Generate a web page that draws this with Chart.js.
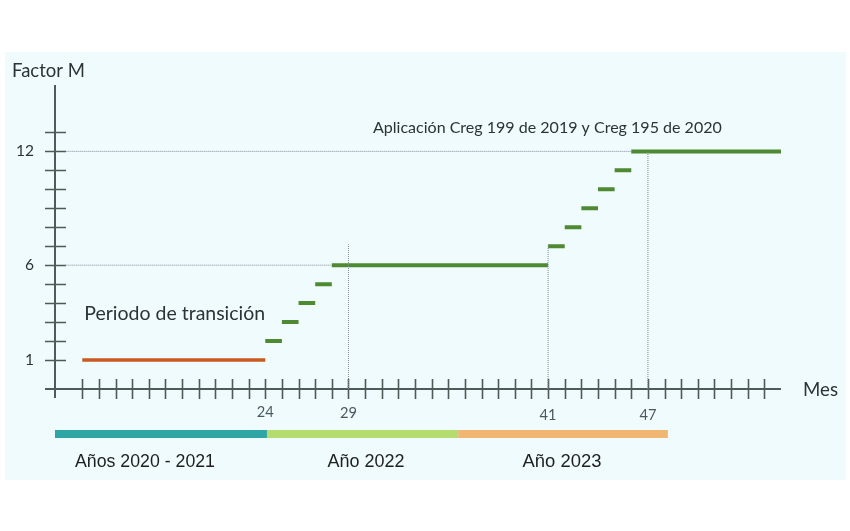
<!DOCTYPE html>
<html><head><meta charset="utf-8">
<script src="https://cdn.jsdelivr.net/npm/chart.js@4.4.1/dist/chart.umd.min.js"></script>
<style>html,body{margin:0;padding:0;background:#fff}canvas{display:block}</style>
</head><body>
<canvas id="c" width="850" height="531"></canvas>
<script>
// x values are schematic tick positions of the "Mes" axis
// (first 12 ticks = 2 months each up to month 24, then 1 month per tick)
const monthTickPos = [12, 17, 29, 35];
const monthTickLabels = ['24', '29', '41', '47'];
const yTickLabels = [1, 6, 12];

const transStart = [1];
const transEnd = [12];
const transValue = [1];

const stepStart = [12, 13, 14, 15, 16, 29, 30, 31, 32, 33, 34];
const stepEnd   = [13, 14, 15, 16, 29, 30, 31, 32, 33, 34, 43];
const stepValue = [2, 3, 4, 5, 6, 7, 8, 9, 10, 11, 12];

const refHValue = [12, 6];
const refHEnd = [34, 16];
const refVPos = [17, 29, 35];
const refVTop = [7.1, 7, 12];

const periodLabels = ['Años 2020 - 2021', 'Año 2022', 'Año 2023'];
const periodStart = [-0.64, 12.1, 23.6];
const periodEnd = [12.1, 23.6, 36.2];
const periodColors = ['#2fa5a6', '#b5dc6f', '#f2b673'];

const X_MIN = -0.64, X_MAX = 43, Y_MIN = -0.53, Y_MAX = 15.5;

function segs(starts, ends, vals) {
  const out = [];
  starts.forEach((s, i) => {
    out.push({x: s, y: vals[i]}, {x: ends[i], y: vals[i]}, {x: ends[i], y: null});
  });
  return out;
}
function hRefs() {
  const out = [];
  refHValue.forEach((v, i) => out.push({x: 0, y: v}, {x: refHEnd[i], y: v}, {x: refHEnd[i], y: null}));
  return out;
}
function vRefs() {
  const out = [];
  refVPos.forEach((p, i) => out.push({x: p, y: Y_MIN}, {x: p, y: refVTop[i]}, {x: p, y: null}));
  return out;
}

function fitText(ctx, text, x, y, width, family, color, align) {
  ctx.save();
  ctx.font = '20px ' + family;
  const w = ctx.measureText(text).width;
  const size = 20 * width / w;
  ctx.font = size.toFixed(2) + 'px ' + family;
  ctx.fillStyle = color;
  ctx.textAlign = align || 'left';
  ctx.textBaseline = 'middle';
  ctx.fillText(text, x, y);
  ctx.restore();
}

const AXIS = '#4f5a5a';
const TXT = '#2c3336';

const decor = {
  id: 'decor',
  beforeDraw(chart) {
    const ctx = chart.ctx;
    ctx.save();
    ctx.fillStyle = '#effbfd';
    ctx.fillRect(5, 52, 841, 428);
    ctx.restore();
  },
  beforeDatasetsDraw(chart) {
    const ctx = chart.ctx, xs = chart.scales.x, ys = chart.scales.y, ca = chart.chartArea;
    ctx.save();
    ctx.strokeStyle = AXIS;
    ctx.lineWidth = 2;
    ctx.beginPath();
    ctx.moveTo(ca.left - 10, ca.bottom); ctx.lineTo(ca.right, ca.bottom);
    ctx.moveTo(ca.left, ca.top); ctx.lineTo(ca.left, ca.bottom + 9);
    ctx.stroke();
    ctx.lineWidth = 1.6;
    ctx.strokeStyle = '#4d5b57';
    ctx.beginPath();
    for (let v = 1; v <= 13; v++) {
      const py = Math.round(ys.getPixelForValue(v)) + 0.5;
      ctx.moveTo(ca.left - 10, py); ctx.lineTo(ca.left + 11, py);
    }
    for (let p = 1; p <= 42; p++) {
      const px = Math.round(xs.getPixelForValue(p)) + 0.5;
      ctx.moveTo(px, ca.bottom - 10); ctx.lineTo(px, ca.bottom + 10);
    }
    ctx.stroke();
    ctx.restore();
  },
  afterDraw(chart) {
    const ctx = chart.ctx, xs = chart.scales.x;
    const CAL = '"Lato", "Open Sans", sans-serif';
    const ARI = '"Liberation Sans", Arial, sans-serif';
    fitText(ctx, 'Factor M', 12, 71, 73, CAL, TXT);
    fitText(ctx, 'Mes', 803, 390, 35, CAL, TXT);
    fitText(ctx, 'Periodo de transición', xs.getPixelForValue(transStart[0]) + 2, 314, 181, CAL, TXT);
    fitText(ctx, 'Aplicación Creg 199 de 2019 y Creg 195 de 2020', 373, 128, 349, CAL, TXT);
    periodLabels.forEach((lab, i) => {
      const x0 = xs.getPixelForValue(periodStart[i]);
      const x1 = xs.getPixelForValue(periodEnd[i]);
      ctx.fillStyle = periodColors[i];
      ctx.fillRect(x0, 430, x1 - x0, 8);
    });
    fitText(ctx, periodLabels[0], 145, 462, 140, ARI, '#1f1f1f', 'center');
    fitText(ctx, periodLabels[1], 366, 462, 77, ARI, '#1f1f1f', 'center');
    fitText(ctx, periodLabels[2], 562, 462, 79, ARI, '#1f1f1f', 'center');
    monthTickPos.forEach((p, i) => {
      const off = i < 2 ? i : 3;
      fitText(ctx, monthTickLabels[i], xs.getPixelForValue(p), 412 + off, 17, CAL, '#4b5861', 'center');
    });
    yTickLabels.forEach(v => {
      const w = String(v).length === 2 ? 18 : 9;
      fitText(ctx, String(v), 34, chart.scales.y.getPixelForValue(v), w, CAL, TXT, 'right');
    });
  }
};

new Chart(document.getElementById('c'), {
  type: 'line',
  data: {
    datasets: [
      {data: hRefs(), borderColor: '#7d8b99', borderWidth: 1, borderDash: [1, 1], pointRadius: 0, spanGaps: false},
      {data: vRefs(), borderColor: '#7d8b99', borderWidth: 1, borderDash: [1, 1], pointRadius: 0, spanGaps: false},
      {data: segs(transStart, transEnd, transValue), borderColor: '#c95a1c', borderWidth: 3.5, pointRadius: 0, spanGaps: false, borderCapStyle: 'butt'},
      {data: segs(stepStart, stepEnd, stepValue), borderColor: '#4f8a33', borderWidth: 4, pointRadius: 0, spanGaps: false, borderCapStyle: 'butt'}
    ]
  },
  options: {
    responsive: false,
    animation: false,
    events: [],
    layout: {padding: {left: 0, right: 69, top: 85, bottom: 0}},
    plugins: {legend: {display: false}, tooltip: {enabled: false}},
    scales: {
      x: {
        type: 'linear', min: X_MIN, max: X_MAX,
        grid: {display: false, drawTicks: false}, border: {display: false},
        ticks: {display: false},
        afterFit(s) { s.height = 142; }
      },
      y: {
        type: 'linear', min: Y_MIN, max: Y_MAX,
        grid: {display: false, drawTicks: false}, border: {display: false},
        ticks: {display: false},
        afterFit(s) { s.width = 55; }
      }
    }
  },
  plugins: [decor]
});
</script>
</body></html>
